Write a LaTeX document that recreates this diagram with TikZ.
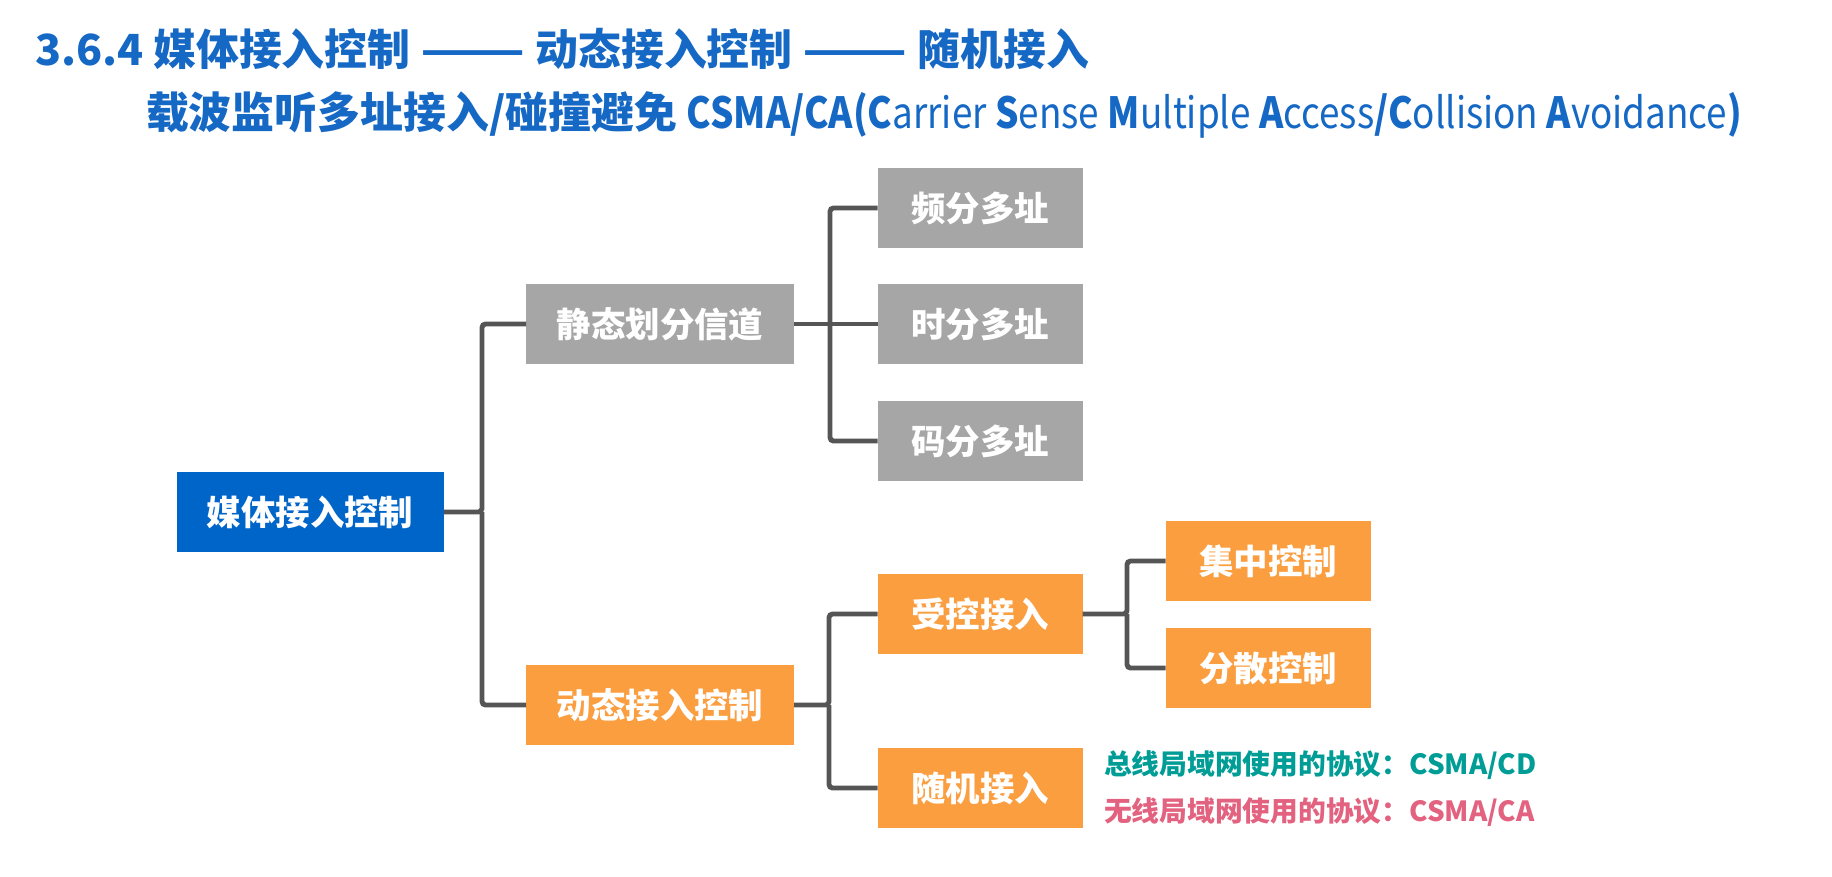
\documentclass[tikz,border=0pt]{standalone}
\usepackage{fontspec}
\usepackage{graphicx}
\setmainfont{Noto Sans CJK SC}
\definecolor{rootblue}{RGB}{0,101,200}
\definecolor{boxgray}{RGB}{166,166,166}
\definecolor{boxorange}{RGB}{250,158,64}
\definecolor{linegray}{RGB}{85,85,85}
\definecolor{titleblue}{RGB}{21,104,196}
\definecolor{cdteal}{RGB}{0,156,150}
\definecolor{capink}{RGB}{226,98,128}
\newcommand{\lite}[1]{{\mdseries #1}}
\newcommand{\longdash}{\scalebox{1.43}[1]{——}}
\tikzset{every node/.style={inner sep=0pt, outer sep=0pt}}
\tikzset{box/.style={minimum height=8mm, text=white, font=\bfseries\fontsize{9.8}{12}\selectfont}}
\tikzset{rootbox/.style={box, fill=rootblue, minimum width=26.7mm}}
\tikzset{midbox/.style={box, minimum width=26.8mm}}
\tikzset{leafbox/.style={box, minimum width=20.5mm}}
\tikzset{titletext/.style={anchor=west, text=titleblue, font=\bfseries\fontsize{12.2}{14}\selectfont}}
\tikzset{note/.style={anchor=west, font=\bfseries\fontsize{7.9}{10}\selectfont}}
\tikzset{treeline/.style={draw=linegray, line width=1.4pt, rounded corners=1pt}}

\begin{document}
\begin{tikzpicture}[x=0.1mm, y=-0.1mm]
  \useasboundingbox (0,0) rectangle (1832,876);

  \node (title) [titletext] at (35,49) {3.6.4 媒体接入控制 \longdash{} 动态接入控制 \longdash{} 随机接入};
  \node (subtitle) [titletext] at (146,115) {载波监听多址接入/碰撞避免 \scalebox{0.86}[1]{CSMA/CA(C\lite{arrier} S\lite{ense} M\lite{ultiple} A\lite{ccess}/C\lite{ollision} A\lite{voidance})}};

  \node (media) [rootbox] at (310,512) {媒体接入控制};
  \node (static) [midbox, fill=boxgray] at (660,324) {静态划分信道};
  \node (dynamic) [midbox, fill=boxorange] at (660,705) {动态接入控制};

  \node (fdma) [leafbox, fill=boxgray] at (980,208) {频分多址};
  \node (tdma) [leafbox, fill=boxgray] at (980,324) {时分多址};
  \node (cdma) [leafbox, fill=boxgray] at (980,441) {码分多址};

  \node (controlled) [leafbox, fill=boxorange] at (980,614) {受控接入};
  \node (random) [leafbox, fill=boxorange] at (980,788) {随机接入};

  \node (central) [leafbox, fill=boxorange] at (1268,561) {集中控制};
  \node (spread) [leafbox, fill=boxorange] at (1268,668) {分散控制};

  \node (cdnote) [note, text=cdteal] at (1104,765) {总线局域网使用的协议：CSMA/CD};
  \node (canote) [note, text=capink] at (1104,812) {无线局域网使用的协议：CSMA/CA};

  \coordinate (mediabus) at (482,512);
  \coordinate (staticbus) at (830,324);
  \coordinate (dynamicbus) at (829,705);
  \coordinate (controlbus) at (1127,614);

  \draw[treeline] (media) -- (mediabus) |- (static);
  \draw[treeline] (mediabus) |- (dynamic);

  \draw[treeline] (static) -- (tdma);
  \draw[treeline] (staticbus) |- (fdma);
  \draw[treeline] (staticbus) |- (cdma);

  \draw[treeline] (dynamic) -- (dynamicbus) |- (controlled);
  \draw[treeline] (dynamicbus) |- (random);

  \draw[treeline] (controlled) -- (controlbus) |- (central);
  \draw[treeline] (controlbus) |- (spread);
\end{tikzpicture}
\end{document}
